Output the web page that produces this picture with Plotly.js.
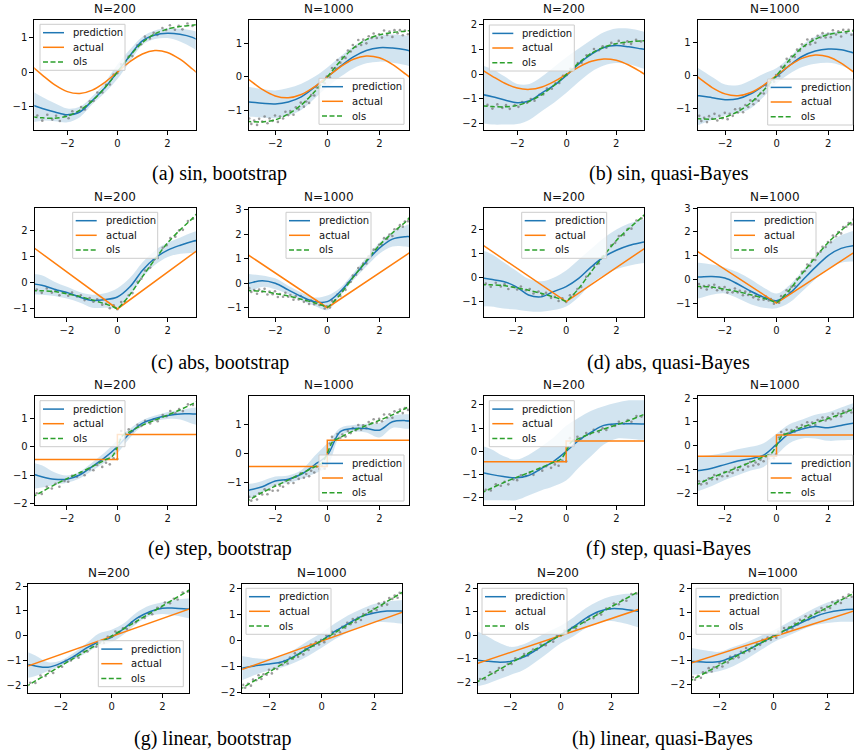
<!DOCTYPE html>
<html><head><meta charset="utf-8">
<script src="https://cdn.plot.ly/plotly-3.0.1.min.js"></script>
<style>html,body{margin:0;padding:0;background:#fff}#chart{width:854px;height:752px}</style>
</head><body><div id="chart"></div>
<script>
// ---------- shared x grids ----------
const X = [-3.4,-3,-2.5,-2,-1.5,-1,-0.5,0,0.5,1,1.5,2,2.5,3,3.2];
const OLS_X = [-3.4,-3,-2.5,-2,-1.5,-1,-0.5,-0.2,0,0.2,0.5,1,1.5,2,2.5,3,3.2];

// ---------- actual functions ----------
const actSinX = X;
const actSin = [0.158,-0.087,-0.371,-0.564,-0.618,-0.522,-0.297,0,0.297,0.522,0.618,0.564,0.371,0.087,-0.036];
const actAbsX = [-3.4,0,3.2];
const actAbs = [1.414,-1,1.272];
const actStepX = [-3.4,0,0,3.2];
const actStep = [-0.45,-0.45,0.45,0.45];
const actLinX = [-3.4,3.2];
const actLin = [-1.24,1.13];

// ---------- ols fits ----------
const olsSin  = [-1.29,-1.32,-1.33,-1.27,-1.1,-0.83,-0.45,-0.19,0,0.19,0.47,0.85,1.1,1.24,1.31,1.35,1.37];
const olsAbs  = [-0.3,-0.3,-0.33,-0.42,-0.52,-0.65,-0.8,-0.9,-0.98,-0.8,-0.45,0.25,0.92,1.55,2.05,2.5,2.72];
const olsStep = [-1.8,-1.6,-1.35,-1.13,-0.92,-0.7,-0.47,-0.33,0.0,0.4,0.55,0.78,0.96,1.14,1.33,1.55,1.65];
const olsLin  = [-2.04,-1.8,-1.5,-1.2,-0.9,-0.6,-0.3,-0.12,0,0.12,0.3,0.6,0.9,1.2,1.5,1.8,1.92];

// ---------- observed data points ----------
const ptsX200 = [-3.2,-3.0,-2.8,-2.6,-2.45,-2.3,-2.1,-1.95,-1.8,-1.6,-1.45,-1.3,-1.1,-0.95,-0.8,-0.6,-0.45,-0.3,-0.15,0.0,0.15,0.3,0.45,0.6,0.8,0.95,1.1,1.3,1.45,1.6,1.8,1.95,2.1,2.3,2.45,2.6,2.8,3.0];
const ptsSin200 = [-1.25,-1.40,-1.23,-1.37,-1.26,-1.41,-1.26,-1.33,-1.13,-1.16,-1.01,-1.08,-0.84,-0.83,-0.59,-0.59,-0.37,-0.36,-0.07,-0.03,0.22,0.22,0.45,0.46,0.77,0.80,1.02,0.97,1.13,1.07,1.27,1.21,1.35,1.22,1.33,1.23,1.40,1.33];
const ptsAbs200 = [-0.25,-0.38,-0.21,-0.37,-0.27,-0.47,-0.37,-0.49,-0.37,-0.52,-0.47,-0.66,-0.58,-0.72,-0.63,-0.84,-0.80,-0.97,-0.86,-1.01,-0.73,-0.71,-0.47,-0.39,0.04,0.16,0.48,0.59,0.88,0.96,1.35,1.45,1.73,1.78,2.02,2.04,2.38,2.47];
const ptsStep200 = [-1.65,-1.68,-1.42,-1.48,-1.31,-1.42,-1.21,-1.24,-1.03,-1.06,-0.92,-1.01,-0.80,-0.83,-0.64,-0.71,-0.56,-0.62,-0.40,-0.43,0.57,0.48,0.63,0.56,0.79,0.75,0.93,0.84,0.99,0.92,1.14,1.10,1.28,1.20,1.35,1.28,1.52,1.50];
const ptsLin200 = [-1.87,-1.88,-1.58,-1.60,-1.40,-1.48,-1.23,-1.23,-0.99,-0.98,-0.81,-0.87,-0.62,-0.62,-0.40,-0.43,-0.25,-0.28,-0.03,-0.03,0.18,0.13,0.31,0.28,0.55,0.55,0.76,0.72,0.90,0.87,1.13,1.13,1.34,1.31,1.49,1.46,1.74,1.77];

const ptsX1000 = [-3.0,-2.92,-2.81,-2.7,-2.62,-2.5,-2.41,-2.3,-2.22,-2.1,-2.01,-1.9,-1.82,-1.7,-1.61,-1.5,-1.42,-1.3,-1.21,-1.1,-1.02,-0.9,-0.81,-0.7,-0.62,-0.5,-0.41,-0.3,-0.22,-0.1,-0.02,0.1,0.18,0.3,0.39,0.5,0.58,0.7,0.79,0.9,0.98,1.1,1.19,1.3,1.38,1.5,1.59,1.7,1.78,1.9,1.99,2.1,2.18,2.3,2.39,2.5,2.58,2.7,2.79,2.9,2.98,3.1];
const ptsSin1000 = [-1.23,-1.39,-1.29,-1.42,-1.24,-1.32,-1.17,-1.37,-1.23,-1.30,-1.14,-1.33,-1.17,-1.23,-1.03,-1.13,-1.01,-1.12,-0.90,-0.96,-0.76,-0.88,-0.73,-0.77,-0.54,-0.55,-0.31,-0.32,-0.15,-0.19,0.01,-0.02,0.26,0.26,0.50,0.42,0.58,0.56,0.78,0.75,0.94,0.89,1.09,0.94,1.10,0.99,1.20,1.15,1.28,1.15,1.26,1.16,1.37,1.24,1.34,1.18,1.38,1.29,1.38,1.23,1.37,1.26];
const ptsAbs1000 = [-0.20,-0.36,-0.28,-0.43,-0.26,-0.35,-0.23,-0.46,-0.34,-0.45,-0.33,-0.56,-0.44,-0.55,-0.39,-0.55,-0.48,-0.67,-0.52,-0.66,-0.52,-0.76,-0.70,-0.85,-0.71,-0.86,-0.73,-0.89,-0.83,-1.03,-0.94,-0.99,-0.71,-0.70,-0.46,-0.52,-0.32,-0.27,0.01,0.06,0.31,0.35,0.62,0.57,0.80,0.81,1.10,1.16,1.37,1.36,1.57,1.56,1.84,1.81,1.99,1.93,2.20,2.21,2.37,2.31,2.52,2.53];
const ptsStep1000 = [-1.50,-1.63,-1.49,-1.59,-1.38,-1.42,-1.24,-1.41,-1.25,-1.29,-1.11,-1.28,-1.11,-1.15,-0.93,-1.03,-0.91,-1.02,-0.80,-0.88,-0.69,-0.84,-0.71,-0.79,-0.60,-0.66,-0.46,-0.54,-0.42,-0.53,-0.38,0.34,0.57,0.49,0.67,0.54,0.65,0.58,0.77,0.70,0.87,0.80,0.98,0.82,0.97,0.87,1.08,1.04,1.18,1.06,1.19,1.11,1.34,1.23,1.35,1.23,1.45,1.40,1.51,1.39,1.56,1.50];
const ptsLin1000 = [-1.70,-1.81,-1.66,-1.73,-1.50,-1.52,-1.33,-1.47,-1.29,-1.31,-1.12,-1.26,-1.07,-1.09,-0.86,-0.93,-0.79,-0.88,-0.65,-0.70,-0.49,-0.62,-0.48,-0.53,-0.32,-0.36,-0.15,-0.20,-0.06,-0.15,0.02,-0.06,0.19,0.14,0.34,0.23,0.37,0.32,0.53,0.49,0.68,0.63,0.83,0.70,0.87,0.79,1.02,1.01,1.17,1.08,1.22,1.17,1.42,1.34,1.48,1.38,1.63,1.60,1.73,1.64,1.83,1.79];

// ---------- predictions and uncertainty bands (on grid X) ----------
const predSinB200 = [-0.95,-1.05,-1.15,-1.23,-1.15,-0.82,-0.45,0.0,0.47,0.9,1.07,1.12,1.09,1.0,0.93];
const loSinB200   = [-1.45,-1.4,-1.42,-1.45,-1.3,-0.93,-0.6,-0.2,0.3,0.78,0.95,0.98,0.88,0.7,0.6];
const hiSinB200   = [-0.55,-0.72,-0.9,-1.05,-1.0,-0.7,-0.3,0.22,0.65,1.02,1.2,1.26,1.25,1.2,1.15];
const predSinB1000 = [-0.72,-0.74,-0.78,-0.8,-0.74,-0.59,-0.31,0.0,0.31,0.59,0.78,0.86,0.85,0.8,0.76];
const loSinB1000   = [-1.2,-1.18,-1.2,-1.22,-1.15,-0.98,-0.65,-0.3,0.0,0.25,0.4,0.45,0.42,0.35,0.3];
const hiSinB1000   = [-0.25,-0.3,-0.36,-0.4,-0.33,-0.2,0.0,0.28,0.6,0.9,1.12,1.22,1.25,1.22,1.2];
const predSinQ200 = [-0.83,-0.92,-1.05,-1.16,-1.08,-0.76,-0.45,-0.04,0.43,0.81,1.08,1.16,1.11,1.03,1.0];
const loSinQ200   = [-2.0,-2.05,-2.05,-2.03,-1.85,-1.5,-1.15,-0.75,-0.3,0.1,0.35,0.45,0.4,0.25,0.2];
const hiSinQ200   = [0.35,0.2,-0.1,-0.4,-0.4,-0.1,0.3,0.7,1.05,1.4,1.7,1.85,1.85,1.75,1.7];
const predSinQ1000 = [-0.58,-0.62,-0.68,-0.74,-0.71,-0.56,-0.31,-0.03,0.3,0.58,0.74,0.8,0.78,0.68,0.64];
const loSinQ1000   = [-1.6,-1.5,-1.35,-1.22,-1.15,-1.0,-0.65,-0.25,0.05,0.25,0.35,0.38,0.3,0.1,0.0];
const hiSinQ1000   = [0.35,0.2,-0.05,-0.28,-0.3,-0.15,0.05,0.22,0.55,0.92,1.18,1.3,1.32,1.28,1.25];

const predAbsB200 = [-0.03,-0.09,-0.24,-0.37,-0.54,-0.67,-0.64,-0.54,-0.15,0.49,0.96,1.26,1.45,1.6,1.64];
const loAbsB200   = [-0.45,-0.45,-0.5,-0.6,-0.75,-0.95,-0.95,-0.95,-0.5,0.2,0.7,1.0,1.12,1.15,1.15];
const hiAbsB200   = [0.35,0.3,0.05,-0.15,-0.35,-0.45,-0.4,-0.2,0.2,0.8,1.25,1.55,1.75,1.95,2.0];
const predAbsB1000 = [-0.1,0.0,0.1,0.0,-0.27,-0.54,-0.75,-0.75,-0.34,0.27,0.88,1.43,1.8,1.9,1.9];
const loAbsB1000   = [-0.45,-0.35,-0.15,-0.25,-0.45,-0.7,-0.92,-1.1,-0.5,0.12,0.68,1.2,1.5,1.5,1.45];
const hiAbsB1000   = [0.45,0.38,0.32,0.2,-0.1,-0.38,-0.58,-0.5,-0.18,0.42,1.05,1.65,2.1,2.35,2.42];
const predAbsQ200 = [0.0,-0.07,-0.16,-0.37,-0.72,-0.8,-0.58,-0.37,-0.03,0.45,0.86,1.14,1.34,1.46,1.5];
const loAbsQ200   = [-1.2,-1.2,-1.28,-1.33,-1.4,-1.42,-1.35,-1.2,-0.8,-0.25,0.1,0.35,0.5,0.6,0.62];
const hiAbsQ200   = [1.15,1.0,0.65,0.3,-0.05,-0.15,0.0,0.3,0.75,1.2,1.65,2.0,2.25,2.4,2.45];
const predAbsQ1000 = [0.1,0.1,0.12,0.05,-0.2,-0.5,-0.75,-0.9,-0.6,-0.05,0.5,1.0,1.3,1.42,1.42];
const loAbsQ1000   = [-0.85,-0.8,-0.65,-0.6,-0.8,-1.05,-1.2,-1.22,-0.98,-0.5,0.0,0.45,0.7,0.75,0.75];
const hiAbsQ1000   = [0.75,0.7,0.62,0.5,0.3,0.0,-0.35,-0.6,-0.25,0.35,0.95,1.5,1.85,2.05,2.1];

const predStepB200 = [-0.95,-1.06,-1.15,-1.15,-1.0,-0.7,-0.38,0.01,0.49,0.85,1.02,1.12,1.18,1.18,1.18];
const loStepB200   = [-1.5,-1.45,-1.35,-1.28,-1.12,-0.85,-0.55,-0.22,0.33,0.75,0.92,1.0,0.98,0.82,0.78];
const hiStepB200   = [-0.55,-0.65,-0.9,-1.02,-0.88,-0.55,-0.2,0.25,0.65,0.95,1.12,1.25,1.32,1.4,1.42];
const predStepB1000 = [-1.35,-1.27,-1.15,-0.95,-0.89,-0.72,-0.4,-0.06,0.75,0.86,0.86,0.8,1.09,1.13,1.11];
const loStepB1000   = [-1.6,-1.55,-1.35,-1.1,-1.02,-0.88,-0.7,-0.45,0.6,0.75,0.72,0.55,0.88,0.85,0.85];
const hiStepB1000   = [-1.0,-1.05,-0.95,-0.8,-0.76,-0.58,-0.1,0.35,0.88,0.98,1.02,1.05,1.3,1.35,1.35];
const predStepQ200 = [-0.9,-0.99,-1.08,-1.14,-1.04,-0.75,-0.43,0.0,0.47,0.83,1.12,1.19,1.19,1.18,1.18];
const loStepQ200   = [-2.1,-2.1,-2.1,-2.1,-1.9,-1.68,-1.5,-1.25,-0.7,-0.2,0.3,0.55,0.55,0.5,0.5];
const hiStepQ200   = [0.25,0.1,-0.2,-0.35,-0.15,0.2,0.6,1.1,1.45,1.75,1.95,2.1,2.2,2.2,2.2];
const predStepQ1000 = [-1.05,-1.05,-0.95,-0.8,-0.65,-0.55,-0.4,0.05,0.5,0.7,0.8,0.75,0.85,0.95,0.95];
const loStepQ1000   = [-2.0,-1.9,-1.7,-1.45,-1.25,-1.05,-0.9,-0.4,0.1,0.3,0.3,0.2,0.22,0.25,0.25];
const hiStepQ1000   = [-0.4,-0.45,-0.4,-0.3,-0.15,-0.05,0.1,0.5,0.9,1.1,1.3,1.4,1.6,1.8,1.85];

const predLinB200 = [-1.12,-1.2,-1.25,-1.09,-0.83,-0.49,-0.23,-0.05,0.31,0.71,0.97,1.11,1.11,1.08,1.07];
const loLinB200   = [-1.7,-1.6,-1.4,-1.2,-0.95,-0.68,-0.4,-0.25,0.08,0.5,0.8,0.88,0.82,0.72,0.68];
const hiLinB200   = [-0.6,-0.78,-1.05,-0.98,-0.68,-0.3,0.1,0.25,0.52,0.95,1.22,1.35,1.45,1.5,1.5];
const predLinB1000 = [-1.1,-1.05,-0.96,-0.9,-0.81,-0.58,-0.28,0.0,0.35,0.64,0.92,1.06,1.13,1.13,1.12];
const loLinB1000   = [-1.6,-1.5,-1.3,-1.15,-1.02,-0.83,-0.58,-0.28,0.05,0.32,0.55,0.7,0.7,0.65,0.62];
const hiLinB1000   = [-0.55,-0.6,-0.68,-0.7,-0.58,-0.32,0.0,0.3,0.65,0.96,1.2,1.4,1.5,1.55,1.55];
const predLinQ200 = [-1.05,-1.1,-1.15,-1.12,-0.95,-0.65,-0.3,0.02,0.35,0.72,1.0,1.12,1.1,1.02,1.0];
const loLinQ200   = [-2.2,-2.1,-1.9,-1.7,-1.5,-1.15,-0.75,-0.35,-0.05,0.3,0.55,0.6,0.5,0.35,0.3];
const hiLinQ200   = [0.2,0.0,-0.3,-0.5,-0.4,-0.15,0.15,0.4,0.75,1.15,1.45,1.65,1.75,1.75,1.75];
const predLinQ1000 = [-1.05,-1.05,-1.08,-1.05,-0.85,-0.6,-0.3,0.0,0.28,0.55,0.8,0.98,1.08,1.12,1.12];
const loLinQ1000   = [-1.65,-1.6,-1.55,-1.45,-1.25,-0.95,-0.6,-0.25,0.0,0.25,0.45,0.55,0.6,0.6,0.6];
const hiLinQ1000   = [-0.45,-0.5,-0.6,-0.65,-0.45,-0.25,0.0,0.25,0.55,0.85,1.15,1.4,1.55,1.62,1.65];

const legendLabels = ['prediction','actual','ols'];
const captions = ['(a) sin, bootstrap','(b) sin, quasi-Bayes','(c) abs, bootstrap','(d) abs, quasi-Bayes',
                  '(e) step, bootstrap','(f) step, quasi-Bayes','(g) linear, bootstrap','(h) linear, quasi-Bayes'];

// ---------- panel configuration (pixel boxes) ----------
const panels = [
 {pred:predSinB200,lo:loSinB200,hi:hiSinB200,actX:actSinX,act:actSin,sh:'spline',ols:olsSin,px:ptsX200,py:ptsSin200,t:'N=200',box:[34.3,20,195.7,130],xr:[-3.32,3.13],yr:[-1.67,1.5],leg:[40,24.3]},
 {pred:predSinB1000,lo:loSinB1000,hi:hiSinB1000,actX:actSinX,act:actSin,sh:'spline',ols:olsSin,px:ptsX1000,py:ptsSin1000,t:'N=1000',box:[249,20,409.3,130],xr:[-3.01,3.15],yr:[-1.57,1.68],leg:[319,78.3]},
 {pred:predSinQ200,lo:loSinQ200,hi:hiSinQ200,actX:actSinX,act:actSin,sh:'spline',ols:olsSin,px:ptsX200,py:ptsSin200,t:'N=200',box:[484,20,644,130],xr:[-3.34,3.12],yr:[-2.27,2.2],leg:[489.3,25]},
 {pred:predSinQ1000,lo:loSinQ1000,hi:hiSinQ1000,actX:actSinX,act:actSin,sh:'spline',ols:olsSin,px:ptsX1000,py:ptsSin1000,t:'N=1000',box:[697.7,20,853,130],xr:[-3.06,2.96],yr:[-1.66,1.68],leg:[767.7,79]},

 {pred:predAbsB200,lo:loAbsB200,hi:hiAbsB200,actX:actAbsX,act:actAbs,sh:'linear',ols:olsAbs,px:ptsX200,py:ptsAbs200,t:'N=200',box:[34.7,208,196,317.3],xr:[-3.28,3.12],yr:[-1.32,2.88],leg:[72.7,212.3]},
 {pred:predAbsB1000,lo:loAbsB1000,hi:hiAbsB1000,actX:actAbsX,act:actAbs,sh:'linear',ols:olsAbs,px:ptsX1000,py:ptsAbs1000,t:'N=1000',box:[248.7,208,409.3,317.3],xr:[-3.02,3.15],yr:[-1.39,3.07],leg:[286,212.3]},
 {pred:predAbsQ200,lo:loAbsQ200,hi:hiAbsQ200,actX:actAbsX,act:actAbs,sh:'linear',ols:olsAbs,px:ptsX200,py:ptsAbs200,t:'N=200',box:[484,208,644,317.3],xr:[-3.27,3.1],yr:[-1.65,2.9],leg:[521.7,212.3]},
 {pred:predAbsQ1000,lo:loAbsQ1000,hi:hiAbsQ1000,actX:actAbsX,act:actAbs,sh:'linear',ols:olsAbs,px:ptsX1000,py:ptsAbs1000,t:'N=1000',box:[697.7,208,853,317.3],xr:[-3.05,2.96],yr:[-1.6,3.0],leg:[731,212.3]},

 {pred:predStepB200,lo:loStepB200,hi:hiStepB200,actX:actStepX,act:actStep,sh:'linear',ols:olsStep,px:ptsX200,py:ptsStep200,t:'N=200',box:[34.7,395.7,196,505],xr:[-3.28,3.12],yr:[-2.07,1.83],leg:[40,400.7]},
 {pred:predStepB1000,lo:loStepB1000,hi:hiStepB1000,actX:actStepX,act:actStep,sh:'linear',ols:olsStep,px:ptsX1000,py:ptsStep1000,t:'N=1000',box:[248.7,395.7,409.3,505],xr:[-3.02,3.15],yr:[-1.78,1.99],leg:[319,455]},
 {pred:predStepQ200,lo:loStepQ200,hi:hiStepQ200,actX:actStepX,act:actStep,sh:'linear',ols:olsStep,px:ptsX200,py:ptsStep200,t:'N=200',box:[484,395.7,644,505],xr:[-3.27,3.1],yr:[-2.31,2.4],leg:[489.3,400.7]},
 {pred:predStepQ1000,lo:loStepQ1000,hi:hiStepQ1000,actX:actStepX,act:actStep,sh:'linear',ols:olsStep,px:ptsX1000,py:ptsStep1000,t:'N=1000',box:[697.7,395.7,853,505],xr:[-3.05,2.96],yr:[-2.5,2.1],leg:[767.7,455]},

 {pred:predLinB200,lo:loLinB200,hi:hiLinB200,actX:actLinX,act:actLin,sh:'linear',ols:olsLin,px:ptsX200,py:ptsLin200,t:'N=200',box:[28.3,584,189.3,692.7],xr:[-3.28,3.06],yr:[-2.27,2.08],leg:[98.3,640.7]},
 {pred:predLinB1000,lo:loLinB1000,hi:hiLinB1000,actX:actLinX,act:actLin,sh:'linear',ols:olsLin,px:ptsX1000,py:ptsLin1000,t:'N=1000',box:[242.3,584,402.3,692.7],xr:[-3.03,3.08],yr:[-2.0,2.17],leg:[246,588.3]},
 {pred:predLinQ200,lo:loLinQ200,hi:hiLinQ200,actX:actLinX,act:actLin,sh:'linear',ols:olsLin,px:ptsX200,py:ptsLin200,t:'N=200',box:[478,584,638,692.7],xr:[-3.28,3.06],yr:[-2.45,2.17],leg:[482,588.3]},
 {pred:predLinQ1000,lo:loLinQ1000,hi:hiLinQ1000,actX:actLinX,act:actLin,sh:'linear',ols:olsLin,px:ptsX1000,py:ptsLin1000,t:'N=1000',box:[692,584,853,692.7],xr:[-3.03,2.95],yr:[-2.35,2.17],leg:[696,588.3]}
];
const captionPos = [[219.5,173],[669,173],[219.5,362],[668,362],[219.5,548],[668,548],[212.8,738],[662,738]];

const W = 854, H = 752;
const PX = v => v / W, PY = v => 1 - v / H;
const C_PRED = '#1f77b4', C_ACT = '#ff7f0e', C_OLS = '#2ca02c';
const traces = [], shapes = [], annotations = [];
const layout = {width:W, height:H, margin:{l:0,r:0,t:0,b:0}, showlegend:false,
  paper_bgcolor:'#fff', plot_bgcolor:'rgba(0,0,0,0)', font:{family:'DejaVu Sans', size:10, color:'#000'}};

panels.forEach((p, i) => {
  const k = i + 1, sfx = k > 1 ? String(k) : '';
  const xa = 'x' + sfx, ya = 'y' + sfx;
  const [L, T, R, B] = p.box;
  const base = {xaxis:xa, yaxis:ya, hoverinfo:'skip', showlegend:false};
  traces.push(Object.assign({x:X, y:p.lo, mode:'lines', line:{width:0, shape:'spline', color:'rgba(31,119,180,0)'}}, base));
  traces.push(Object.assign({x:X, y:p.hi, mode:'lines', fill:'tonexty', fillcolor:'rgba(31,119,180,0.2)', line:{width:0, shape:'spline', color:'rgba(31,119,180,0)'}}, base));
  traces.push(Object.assign({x:p.px, y:p.py, mode:'markers', marker:{size:2.6, color:'rgba(105,105,105,0.65)'}}, base));
  traces.push(Object.assign({x:X, y:p.pred, mode:'lines', line:{color:C_PRED, width:1.5, shape:'spline'}}, base));
  traces.push(Object.assign({x:p.actX, y:p.act, mode:'lines', line:{color:C_ACT, width:1.5, shape:p.sh}}, base));
  traces.push(Object.assign({x:OLS_X, y:p.ols, mode:'lines', line:{color:C_OLS, width:1.5, dash:'5px,2.5px', shape:'spline', smoothing:0.8}}, base));

  const axCommon = {showline:true, mirror:true, linecolor:'#000', linewidth:1, ticks:'outside', ticklen:4,
    tickwidth:1, tickcolor:'#000', showgrid:false, zeroline:false, fixedrange:true,
    tickfont:{family:'DejaVu Sans', size:10, color:'#111'}};
  layout['xaxis' + sfx] = Object.assign({domain:[PX(L), PX(R)], range:p.xr, anchor:ya, tickmode:'array', tickvals:[-2,0,2]}, axCommon);
  layout['yaxis' + sfx] = Object.assign({domain:[PY(B), PY(T)], range:p.yr, anchor:xa, tickmode:'linear', tick0:0, dtick:1}, axCommon);

  annotations.push({xref:'paper', yref:'paper', x:PX((L + R) / 2), y:PY(T - 2), xanchor:'center', yanchor:'bottom',
    text:p.t, showarrow:false, font:{family:'DejaVu Sans', size:12, color:'#111'}});

  // legend box
  const [bx, by] = p.leg, bw = 85, bh = 46;
  shapes.push({type:'rect', xref:'paper', yref:'paper', x0:PX(bx), x1:PX(bx + bw), y0:PY(by + bh), y1:PY(by),
    line:{color:'#cccccc', width:1}, fillcolor:'rgba(255,255,255,0.8)'});
  const cols = [C_PRED, C_ACT, C_OLS];
  [8.4, 23, 37.7].forEach((dy, j) => {
    shapes.push({type:'line', xref:'paper', yref:'paper', x0:PX(bx + 3), x1:PX(bx + 24), y0:PY(by + dy), y1:PY(by + dy),
      line:{color:cols[j], width:1.5, dash: j === 2 ? '5px,2.5px' : 'solid'}});
    annotations.push({xref:'paper', yref:'paper', x:PX(bx + 31), y:PY(by + dy), xanchor:'left', yanchor:'middle',
      text:legendLabels[j], showarrow:false, font:{family:'DejaVu Sans', size:10, color:'#111'}});
  });
});

captions.forEach((c, i) => {
  annotations.push({xref:'paper', yref:'paper', x:PX(captionPos[i][0]), y:PY(captionPos[i][1]), xanchor:'center', yanchor:'middle',
    text:c, showarrow:false, font:{family:'Liberation Serif', size:20, color:'#000'}});
});

layout.shapes = shapes;
layout.annotations = annotations;
Plotly.newPlot('chart', traces, layout, {staticPlot:true, displayModeBar:false});
</script>
</body></html>
